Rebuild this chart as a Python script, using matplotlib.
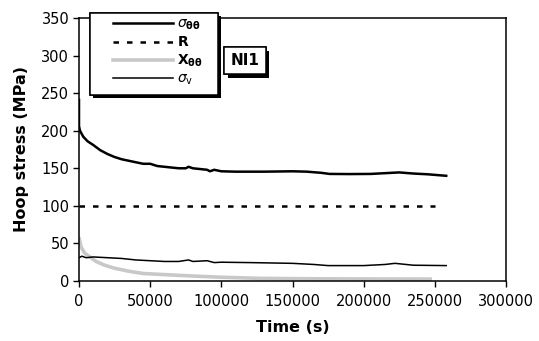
import matplotlib
matplotlib.use("Agg")
import matplotlib.pyplot as plt
import matplotlib.patheffects as pe
from matplotlib.patches import Rectangle
from matplotlib.lines import Line2D

plt.rcParams['font.family'] = ['DejaVu Sans']
plt.rcParams['mathtext.fontset'] = 'dejavusans'

# hoop stress sigma_theta-theta
t_s = [0, 0, 700, 3000, 6000, 10000, 15000, 20000, 25000, 30000, 35000, 40000,
       45000, 50000, 55000, 60000, 65000, 70000, 75000, 77000, 80000, 85000,
       90000, 92000, 95000, 100000, 110000, 130000, 150000, 160000, 170000,
       176000, 190000, 205000, 215000, 225000, 235000, 245000, 258000]
v_s = [241, 206, 200, 192, 186, 181, 174, 169, 165, 162, 160, 158,
       156, 156, 153, 152, 151, 150, 150, 152, 150, 149,
       148, 146, 148, 146, 145.5, 145.5, 146, 145.5, 144,
       142.5, 142.3, 142.5, 143.5, 144.5, 143, 142, 140]

# R
t_r = [0, 250000]
v_r = [100, 100]

# X_theta-theta
t_x = [0, 1500, 4000, 7700, 12000, 18000, 25000, 35000, 45000, 60000, 80000,
       100000, 127000, 160000, 200000, 248000]
v_x = [58, 45, 37, 32, 26, 21, 17, 13, 10, 8.5, 6.6, 5, 3.5, 3, 2.7, 2.5]

# sigma_v
t_v = [0, 2000, 5000, 10000, 20000, 30000, 40000, 50000, 60000, 70000, 77000,
       80000, 90000, 95000, 100000, 120000, 150000, 165000, 175000, 200000,
       215000, 222000, 235000, 258000]
v_v = [31, 33, 31, 32, 31, 30, 28, 27, 26, 26, 28, 26, 27, 24.5, 25, 24.5,
       23.5, 22, 20.5, 20.5, 22, 23.5, 21, 20.5]

labels = [r'$\sigma_{\mathbf{\theta\theta}}$', r'$\mathbf{R}$',
          r'$\mathbf{X}_{\mathbf{\theta\theta}}$', r'$\sigma_{\mathrm{v}}$']

fig = plt.figure(figsize=(5.39, 3.41), dpi=100)
ax = fig.add_axes([79/539, 1-281/341, 427/539, 263/341])

ax.plot(t_x, v_x, color='#c8c8c8', lw=2.6, solid_capstyle='butt')
ax.plot(t_v, v_v, color='black', lw=1.1)
ax.plot(t_r, v_r, color='black', lw=1.8, ls=(0, (2.2, 3.2)))
ax.plot(t_s, v_s, color='black', lw=1.8)

ax.set_xlim(0, 300000)
ax.set_ylim(0, 350)
ax.set_xticks(range(0, 300001, 50000))
ax.set_yticks(range(0, 351, 50))
ax.tick_params(direction='out', length=4, width=1, labelsize=10.5)
ax.tick_params(axis='x', pad=5)
ax.tick_params(axis='y', pad=3)
for s in ax.spines.values():
    s.set_linewidth(1.1)
ax.set_xlabel('Time (s)', fontsize=11.5, fontweight='bold', labelpad=8)
ax.set_ylabel('Hoop stress (MPa)', fontsize=11.5, fontweight='bold', labelpad=9)

# legend frame with shadow
shadow = [pe.withSimplePatchShadow(offset=(2.5, -2.5), shadow_rgbFace='black', alpha=1), pe.Normal()]
frame = Rectangle((90/539, 1-95/341), 128/539, 82/341, transform=fig.transFigure,
                  facecolor='white', edgecolor='black', lw=1.1, zorder=4)
frame.set_path_effects(shadow)
fig.add_artist(frame)

handles = [Line2D([], [], color='black', lw=1.8),
           Line2D([], [], color='black', lw=1.8, ls=(0, (2.2, 3.2))),
           Line2D([], [], color='#c8c8c8', lw=2.6),
           Line2D([], [], color='black', lw=1.1)]
leg = fig.legend(handles, labels, loc='upper left', bbox_to_anchor=(113/539, 1-17/341),
                 frameon=False, borderpad=0, borderaxespad=0, handlelength=4.3,
                 handletextpad=0.3, labelspacing=0.22, fontsize=10)
leg.set_zorder(5)

txt = ax.text(116600, 293, 'NI1', fontsize=11, fontweight='bold', ha='center', va='center',
              bbox=dict(boxstyle='square,pad=0.4', facecolor='white', edgecolor='black', lw=1.1))
txt.get_bbox_patch().set_path_effects(shadow)

fig.savefig('out.png', dpi=100)
